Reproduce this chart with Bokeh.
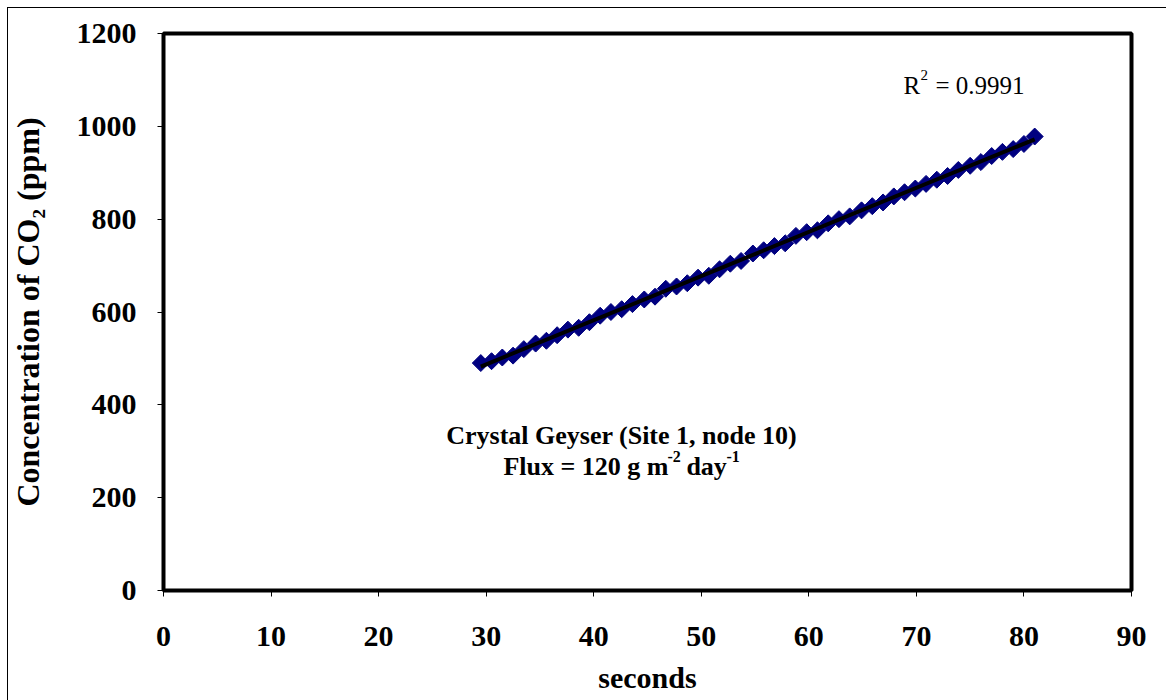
import numpy as np
from bokeh.plotting import figure
from bokeh.models import Label, Range1d, FixedTicker
from bokeh.embed import file_html
from bokeh.resources import INLINE

# ---- data ----
seconds = [29.5, 30.5, 31.5, 32.5, 33.5, 34.6, 35.6, 36.6, 37.6, 38.6,
           39.6, 40.6, 41.6, 42.6, 43.6, 44.7, 45.7, 46.7, 47.7, 48.7,
           49.7, 50.7, 51.7, 52.7, 53.7, 54.8, 55.8, 56.8, 57.8, 58.8,
           59.8, 60.8, 61.8, 62.8, 63.8, 64.9, 65.9, 66.9, 67.9, 68.9,
           69.9, 70.9, 71.9, 72.9, 73.9, 75.0, 76.0, 77.0, 78.0, 79.0,
           80.0, 81.0]
co2_ppm = [490, 494, 502, 506, 520, 532, 538, 550, 562, 566,
           578, 592, 600, 606, 617, 627, 633, 650, 655, 662,
           674, 678, 692, 704, 710, 726, 733, 742, 748, 764,
           772, 776, 791, 800, 806, 819, 828, 836, 849, 858,
           866, 876, 885, 893, 906, 915, 923, 936, 945, 951,
           962, 978]
x_ticks = [0, 10, 20, 30, 40, 50, 60, 70, 80, 90]
y_ticks = [0, 200, 400, 600, 800, 1000, 1200]
r2_value = "0.9991"
site_text = "Crystal Geyser (Site 1, node 10)"

FONT = "Liberation Serif"

p = figure(width=1166, height=700, output_backend="svg", toolbar_location=None,
           x_range=Range1d(0, 90), y_range=Range1d(0, 1200),
           min_border_left=163, min_border_right=35, min_border_top=33,
           min_border_bottom=110)

p.grid.visible = False
p.outline_line_color = "black"
p.outline_line_width = 4
p.background_fill_color = "white"
p.border_fill_color = None
# outer chart-area border (top and left edges inside the window)
p.styles = {
    "background": ("linear-gradient(#000000, #000000) 7px 7px / 1159px 1px no-repeat, "
                   "linear-gradient(#000000, #000000) 7px 7px / 1px 693px no-repeat, "
                   "#ffffff"),
}

p.xaxis.ticker = FixedTicker(ticks=x_ticks)
p.yaxis.ticker = FixedTicker(ticks=y_ticks)
for ax in (p.xaxis[0], p.yaxis[0]):
    ax.axis_line_color = None
    ax.major_tick_in = 0
    ax.major_tick_out = 6
    ax.major_tick_line_color = "black"
    ax.major_tick_line_width = 1
    ax.minor_tick_line_color = None
    ax.major_label_text_font = FONT
    ax.major_label_text_font_style = "bold"
    ax.major_label_text_font_size = "30px"
    ax.major_label_text_color = "black"
    ax.axis_label_text_font = FONT
    ax.axis_label_text_font_style = "bold"
    ax.axis_label_text_color = "black"

p.xaxis.axis_label = "seconds"
p.yaxis.axis_label = "Concentration of CO\u2082 (ppm)"
p.xaxis.axis_label_text_font_size = "30px"
p.yaxis.axis_label_text_font_size = "32px"
p.xaxis.major_label_standoff = 30
p.yaxis.major_label_standoff = 21
p.xaxis.axis_label_standoff = 12
p.yaxis.axis_label_standoff = 28

# markers
p.scatter(seconds, co2_ppm, marker="square", angle=np.pi / 4, size=12,
          fill_color="#000080", line_color="#000080")

# linear trend line from the data
slope, intercept = np.polyfit(seconds, co2_ppm, 1)
xs = [min(seconds), max(seconds)]
p.line(xs, [slope * v + intercept for v in xs], line_color="black", line_width=4)

# R^2 label
rx, ry = 68.8, 1088
common = dict(text_font=FONT, text_color="black", text_baseline="alphabetic",
              text_align="left")
p.add_layout(Label(x=rx, y=ry, text="R", text_font_size="25px", **common))
p.add_layout(Label(x=rx, y=ry, x_offset=17, y_offset=10, text="2",
                   text_font_size="15px", **common))
p.add_layout(Label(x=rx, y=ry, x_offset=32, text="= " + r2_value,
                   text_font_size="25px", **common))

# site annotation
p.add_layout(Label(x=42.6, y=333, text=site_text, text_font=FONT, text_font_size="26px",
                   text_color="black", text_font_style="bold",
                   text_baseline="alphabetic", text_align="center"))
fx, fy = 31.6, 268
parts = [("Flux = 120 g m", 0, 0, "26px"), ("-2", 164, 10, "16px"),
         ("day", 183, 0, "26px"), ("-1", 223, 10, "16px")]
for t, xo, yo, fs in parts:
    p.add_layout(Label(x=fx, y=fy, x_offset=xo, y_offset=yo, text=t,
                       text_font_size=fs, text_font_style="bold", **common))

open("out.html", "w").write(file_html(p, INLINE))
